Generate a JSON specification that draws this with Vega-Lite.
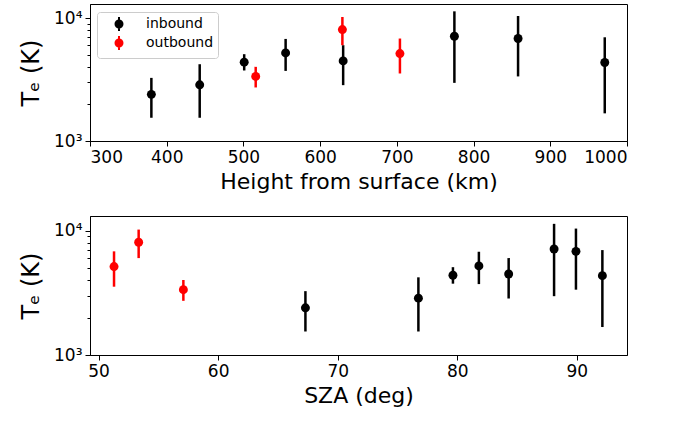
{
  "$schema": "https://vega.github.io/schema/vega-lite/v6.json",
  "autosize": {"type": "pad"},
  "padding": {"left": 19, "top": 3, "right": 5, "bottom": 5},
  "background": "white",
  "config": {
    "font": "DejaVu Sans",
    "view": {"stroke": "black", "strokeWidth": 1},
    "axis": {
      "grid": false,
      "domainColor": "black",
      "domainWidth": 1,
      "tickColor": "black",
      "tickWidth": 1,
      "tickSize": 5,
      "labelColor": "black",
      "titleColor": "black",
      "labelFontSize": 17,
      "titleFontSize": 22,
      "titleFontWeight": "normal",
      "labelPadding": 3
    }
  },
  "datasets": {
    "te": [
      {"h": 380, "sza": 67.3, "te": 2395, "lo": 1545, "hi": 3260, "dir": "inbound"},
      {"h": 443, "sza": 76.75, "te": 2864, "lo": 1545, "hi": 4210, "dir": "inbound"},
      {"h": 501, "sza": 79.64, "te": 4375, "lo": 3744, "hi": 5080, "dir": "inbound"},
      {"h": 555, "sza": 81.81, "te": 5200, "lo": 3715, "hi": 6760, "dir": "inbound"},
      {"h": 630, "sza": 84.3, "te": 4480, "lo": 2845, "hi": 6010, "dir": "inbound"},
      {"h": 775, "sza": 88.1, "te": 7110, "lo": 2970, "hi": 11330, "dir": "inbound"},
      {"h": 858, "sza": 89.93, "te": 6810, "lo": 3350, "hi": 10380, "dir": "inbound"},
      {"h": 971, "sza": 92.14, "te": 4345, "lo": 1678, "hi": 6970, "dir": "inbound"},
      {"h": 516, "sza": 57.09, "te": 3350, "lo": 2725, "hi": 4008, "dir": "outbound"},
      {"h": 629, "sza": 53.35, "te": 8055, "lo": 6010, "hi": 10190, "dir": "outbound"},
      {"h": 704, "sza": 51.29, "te": 5140, "lo": 3540, "hi": 6810, "dir": "outbound"}
    ]
  },
  "spacing": 75,
  "bounds": "flush",
  "resolve": {"legend": {"color": "independent"}},
  "vconcat": [
    {
      "width": 537,
      "height": 137,
      "data": {"name": "te"},
      "encoding": {
        "x": {
          "field": "h", "type": "quantitative",
          "scale": {"domain": [300, 1000], "nice": false, "zero": false},
          "axis": {"values": [300, 400, 500, 600, 700, 800, 900, 1000], "format": "d", "title": "Height from surface (km)", "titlePadding": 6}
        },
        "color": {
          "field": "dir", "type": "nominal",
          "scale": {"domain": ["inbound", "outbound"], "range": ["#000000", "#ff0000"]},
          "legend": {
            "title": null,
            "orient": "none",
            "legendX": 7,
            "legendY": 8,
            "direction": "vertical",
            "strokeColor": "#cccccc",
            "fillColor": "white",
            "cornerRadius": 3,
            "padding": 4,
            "rowPadding": -5,
            "symbolType": "M0,-1V1M-0.5,0A0.5,0.5 0 1 0 0.5,0A0.5,0.5 0 1 0 -0.5,0Z",
            "symbolSize": 196,
            "symbolStrokeWidth": 2,
            "symbolOffset": 10,
            "labelOffset": 19,
            "labelFontSize": 14,
            "labelColor": "black",
            "encode": {"symbols": {"update": {"stroke": {"scale": "color", "field": "value"}, "fill": {"scale": "color", "field": "value"}, "opacity": {"value": 1}}}}
          }
        }
      },
      "layer": [
        {
          "mark": {"type": "rule", "strokeWidth": 2.5},
          "encoding": {
            "y": {
              "field": "lo", "type": "quantitative",
              "scale": {"type": "log", "domain": [1000, 13000], "nice": false},
              "axis": {
                "values": [1000, 2000, 3000, 4000, 5000, 6000, 7000, 8000, 9000, 10000],
                "labelExpr": "datum.value == 1000 ? '10³' : (datum.value == 10000 ? '10⁴' : '')",
                "tickSize": {"condition": {"test": "datum.value == 1000 || datum.value == 10000", "value": 5}, "value": 3},
                "title": "Tₑ (K)",
                "titleFontSize": 24,
                "titlePadding": 10
              }
            },
            "y2": {"field": "hi"}
          }
        },
        {
          "mark": {"type": "point", "filled": true, "size": 80, "opacity": 1, "shape": "circle"},
          "encoding": {"y": {"field": "te", "type": "quantitative"}}
        }
      ]
    },
    {
      "width": 537,
      "height": 139,
      "data": {"name": "te"},
      "encoding": {
        "x": {
          "field": "sza", "type": "quantitative",
          "scale": {"domain": [49.28, 94.2], "nice": false, "zero": false},
          "axis": {"values": [50, 60, 70, 80, 90], "title": "SZA (deg)", "titlePadding": 6}
        },
        "color": {
          "field": "dir", "type": "nominal",
          "scale": {"domain": ["inbound", "outbound"], "range": ["#000000", "#ff0000"]},
          "legend": null
        }
      },
      "layer": [
        {
          "mark": {"type": "rule", "strokeWidth": 2.5},
          "encoding": {
            "y": {
              "field": "lo", "type": "quantitative",
              "scale": {"type": "log", "domain": [1000, 13100], "nice": false},
              "axis": {
                "values": [1000, 2000, 3000, 4000, 5000, 6000, 7000, 8000, 9000, 10000],
                "labelExpr": "datum.value == 1000 ? '10³' : (datum.value == 10000 ? '10⁴' : '')",
                "tickSize": {"condition": {"test": "datum.value == 1000 || datum.value == 10000", "value": 5}, "value": 3},
                "title": "Tₑ (K)",
                "titleFontSize": 24,
                "titlePadding": 10
              }
            },
            "y2": {"field": "hi"}
          }
        },
        {
          "mark": {"type": "point", "filled": true, "size": 80, "opacity": 1, "shape": "circle"},
          "encoding": {"y": {"field": "te", "type": "quantitative"}}
        }
      ]
    }
  ]
}
